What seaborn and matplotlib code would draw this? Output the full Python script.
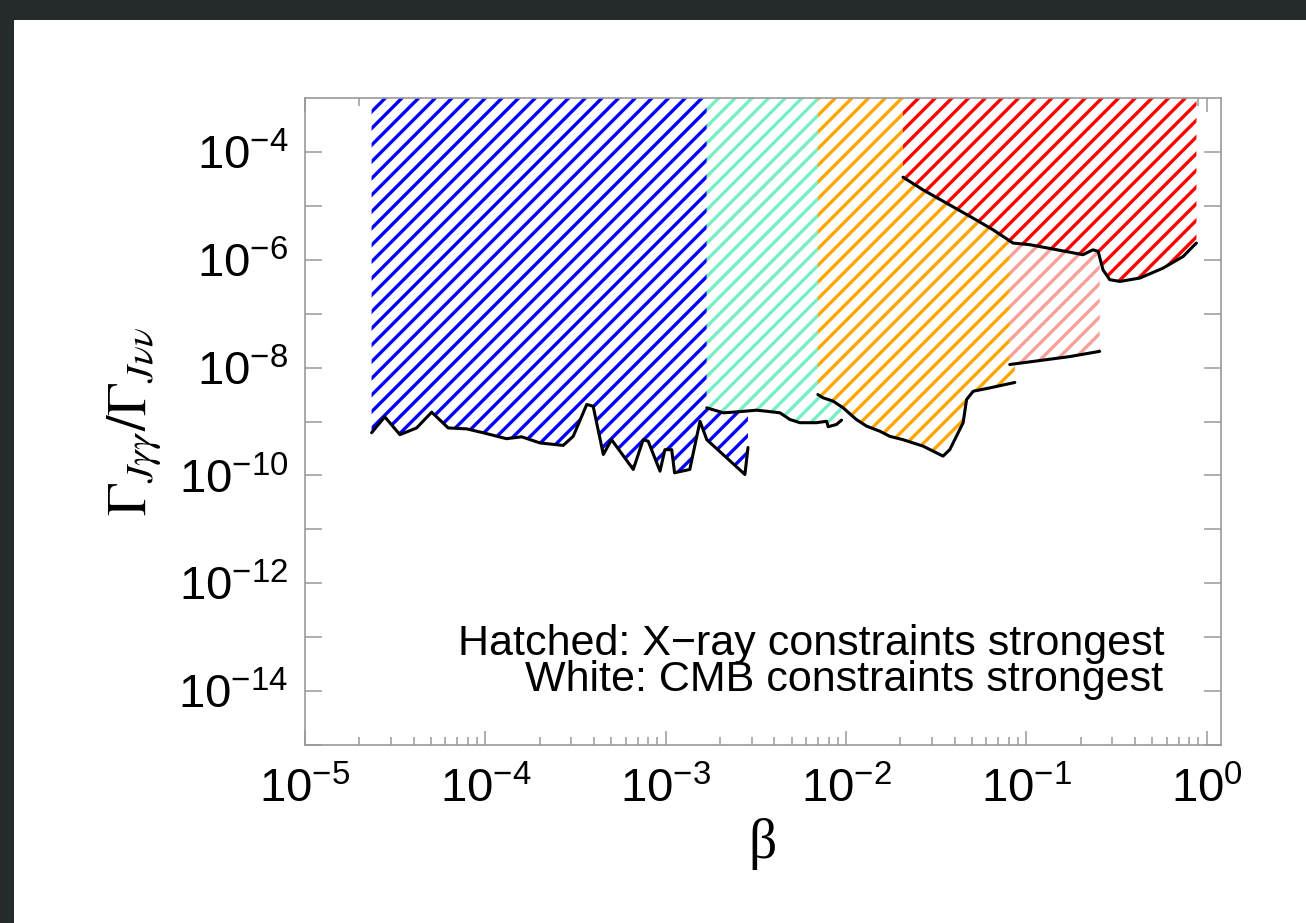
import numpy as np
import matplotlib
matplotlib.use("Agg")
import matplotlib.pyplot as plt
import matplotlib.ticker as mticker
from matplotlib.patches import Rectangle
import seaborn as sns

# -------------------------
# Data
# -------------------------
blue_beta = [2.34e-5, 2.77e-5, 3.36e-5, 4.16e-5, 5.04e-5, 6.22e-5, 7.87e-5, 9.7e-5,
             1.31e-4, 1.59e-4, 2.01e-4, 2.70e-4, 3.07e-4, 3.65e-4, 3.96e-4, 4.51e-4,
             5.01e-4, 6.61e-4, 7.5e-4, 8.0e-4, 9.3e-4, 9.9e-4, 1.08e-3, 1.12e-3,
             1.36e-3, 1.55e-3, 1.69e-3, 2.75e-3, 2.86e-3]
blue_ratio = [6.2e-10, 1.22e-9, 5.7e-10, 7.6e-10, 1.49e-9, 7.6e-10, 7.3e-10, 6.2e-10,
              4.8e-10, 5.2e-10, 4.0e-10, 3.6e-10, 5.3e-10, 2.07e-9, 1.92e-9, 2.45e-10,
              4.6e-10, 1.29e-10, 4.6e-10, 4.3e-10, 1.2e-10, 3.0e-10, 3.0e-10, 1.12e-10,
              1.29e-10, 1.01e-9, 4.6e-10, 1.04e-10, 3.3e-10]

cyan_beta = [1.69e-3, 2.09e-3, 2.37e-3, 3.19e-3, 3.62e-3, 4.30e-3, 4.88e-3, 5.55e-3,
             6.86e-3, 7.80e-3, 7.96e-3, 8.85e-3, 9.44e-3]
cyan_ratio = [1.79e-9, 1.45e-9, 1.49e-9, 1.62e-9, 1.55e-9, 1.45e-9, 1.09e-9, 9.5e-10,
              9.5e-10, 1.01e-9, 8.0e-10, 8.8e-10, 1.06e-9]

orange_beta = [6.98e-3, 7.46e-3, 8.49e-3, 9.64e-3, 1.14e-2, 1.30e-2, 1.54e-2, 1.75e-2,
               2.07e-2, 2.67e-2, 3.45e-2, 3.76e-2, 4.46e-2, 4.66e-2, 5.07e-2, 6.27e-2,
               8.63e-2]
orange_ratio = [3.16e-9, 2.75e-9, 2.38e-9, 1.79e-9, 1.09e-9, 8.2e-10, 6.6e-10, 5.3e-10,
                4.6e-10, 3.5e-10, 2.28e-10, 3.0e-10, 9.5e-10, 2.55e-9, 3.64e-9, 4.2e-9,
                5.3e-9]

pink_beta = [8.09e-2, 0.1186, 0.174, 0.255]
pink_ratio = [1.14e-8, 1.35e-8, 1.6e-8, 2.0e-8]

red_beta = [2.07e-2, 2.67e-2, 3.61e-2, 5.07e-2, 6.53e-2, 8.43e-2, 0.1045, 0.1406,
            0.206, 0.234, 0.250, 0.266, 0.290, 0.330, 0.426, 0.573, 0.740, 0.857, 0.877]
red_ratio = [3.40e-5, 1.98e-5, 1.12e-5, 5.9e-6, 3.6e-6, 2.04e-6, 1.90e-6, 1.58e-6,
             1.24e-6, 1.53e-6, 1.43e-6, 6.5e-7, 4.27e-7, 3.96e-7, 4.58e-7, 7.0e-7,
             1.15e-6, 1.90e-6, 2.04e-6]

regions = [
    (blue_beta, blue_ratio, "#0000ff"),
    (cyan_beta, cyan_ratio, "#76eec6"),
    (orange_beta, orange_ratio, "#ffa500"),
    (pink_beta, pink_ratio, "#f5a09a"),
    (red_beta, red_ratio, "#ff0000"),
]

Y_TOP = 1e-3
Y_BOTTOM = 1e-15

# -------------------------
# Style
# -------------------------
sns.set_theme(style="ticks")
plt.rcParams["font.family"] = ["Liberation Sans", "DejaVu Sans"]
plt.rcParams["mathtext.fontset"] = "custom"
plt.rcParams["mathtext.rm"] = "Liberation Sans"
plt.rcParams["mathtext.it"] = "Liberation Sans:italic"
plt.rcParams["hatch.linewidth"] = 2.4

fig = plt.figure(figsize=(13.06, 9.23), dpi=100)
fig.patch.set_facecolor("#252a2a")
fig.patches.append(Rectangle((14 / 1306, 0), 1, (923 - 20) / 923,
                             transform=fig.transFigure, facecolor="white",
                             edgecolor="none", zorder=-10))

ax = fig.add_axes([305 / 1306, (923 - 745) / 923, 916 / 1306, 647 / 923])
ax.set_zorder(1)
ax.set_facecolor("white")

# -------------------------
# Hatched regions, later ones cover earlier ones
# -------------------------
for beta, ratio, col in regions:
    ax.fill_between(beta, ratio, Y_TOP, facecolor="white", edgecolor=col,
                    hatch="//", linewidth=0, zorder=1)

for beta, ratio, col in regions:
    sns.lineplot(x=beta, y=ratio, color="black", linewidth=2.2, sort=False,
                 estimator=None, ax=ax, zorder=3)

# -------------------------
# Axes
# -------------------------
ax.set_xscale("log")
ax.set_yscale("log")
ax.set_xlim(1e-5, 1.2)
ax.set_ylim(Y_BOTTOM, Y_TOP)

ax.xaxis.set_major_locator(mticker.LogLocator(base=10, numticks=10))
ax.xaxis.set_minor_locator(mticker.LogLocator(base=10, subs=np.arange(2, 10), numticks=30))
ax.xaxis.set_minor_formatter(mticker.NullFormatter())
ax.yaxis.set_major_locator(mticker.FixedLocator(10.0 ** np.arange(-14, -3, 2)))
ax.yaxis.set_minor_locator(mticker.FixedLocator(10.0 ** np.arange(-15, -3, 2)))
ax.yaxis.set_minor_formatter(mticker.NullFormatter())

for side in ["left", "right", "top", "bottom"]:
    ax.spines[side].set_color("#999999")
    ax.spines[side].set_linewidth(1.2)

ax.tick_params(axis="both", which="both", direction="in", colors="#999999",
               width=1.1, top=True, right=True, labelcolor="black")
ax.tick_params(axis="x", which="major", length=10, pad=16, labelsize=34)
ax.tick_params(axis="x", which="minor", length=6)
ax.tick_params(axis="y", which="both", length=12, pad=12, labelsize=34)

ax.set_xlabel("β", fontsize=40, family="Liberation Serif", labelpad=4, color="black")
ax.set_ylabel(r"$\Gamma_{J\gamma\gamma}/\Gamma_{J\nu\nu}$", fontsize=40,
              math_fontfamily="stix", labelpad=10, color="black")

ax.text(0.939, 0.139, "Hatched: X\u2212ray constraints strongest", transform=ax.transAxes,
        ha="right", va="baseline", fontsize=31, color="black", zorder=4)
ax.text(0.937, 0.083, "White: CMB constraints strongest", transform=ax.transAxes,
        ha="right", va="baseline", fontsize=31, color="black", zorder=4)

fig.savefig("out.png", dpi=100, facecolor=fig.get_facecolor())
